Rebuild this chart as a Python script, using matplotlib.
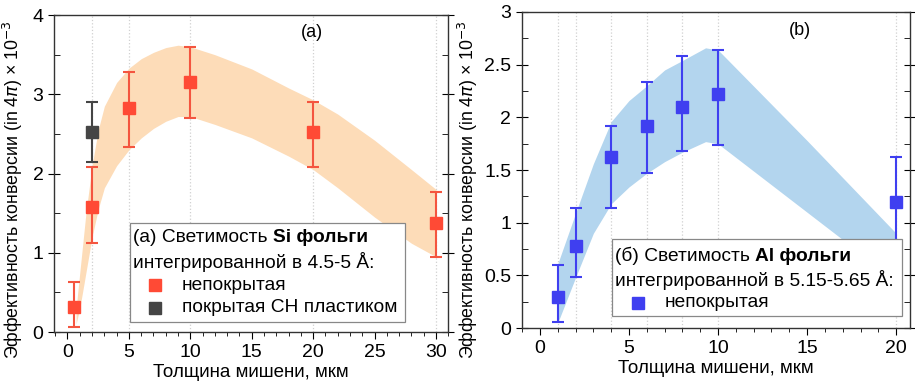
import matplotlib
matplotlib.use("Agg")
import matplotlib.pyplot as plt
from matplotlib.patches import Rectangle
from matplotlib.ticker import MultipleLocator

plt.rcParams['font.family'] = ['Liberation Sans', 'DejaVu Sans']
plt.rcParams['mathtext.fontset'] = 'dejavusans'

# (a) Si foil
si_x = [0.5, 2, 5, 10, 20, 30]
si_y = [0.31, 1.58, 2.83, 3.15, 2.52, 1.38]
si_lo = [0.25, 0.45, 0.50, 0.45, 0.44, 0.43]
si_hi = [0.32, 0.50, 0.45, 0.45, 0.38, 0.39]
si_ch_x = [2]
si_ch_y = [2.52]
si_ch_lo = [0.38]
si_ch_hi = [0.38]
si_band_x = [0.7, 1, 1.5, 2, 2.5, 3, 4, 5, 6, 7, 8, 9, 10, 12, 15, 18, 20, 22, 25, 28, 30]
si_band_up = [0.3, 0.75, 1.5, 2.1, 2.55, 2.85, 3.15, 3.33, 3.45, 3.53, 3.59, 3.62, 3.6,
              3.5, 3.32, 3.08, 2.93, 2.75, 2.42, 2.05, 1.8]
si_band_dn = [0.1, 0.3, 0.75, 1.2, 1.55, 1.82, 2.1, 2.3, 2.45, 2.57, 2.66, 2.72, 2.72,
              2.62, 2.45, 2.22, 2.05, 1.82, 1.45, 1.12, 0.95]

# (b) Al foil
al_x = [1, 2, 4, 6, 8, 10, 20]
al_y = [0.30, 0.78, 1.62, 1.92, 2.10, 2.22, 1.20]
al_lo = [0.24, 0.29, 0.48, 0.45, 0.42, 0.48, 0.42]
al_hi = [0.30, 0.36, 0.30, 0.42, 0.48, 0.42, 0.42]
al_band_x = [1, 2, 3, 4, 5, 6, 7, 8, 9.3, 10, 15, 20]
al_band_up = [0.61, 1.09, 1.56, 1.96, 2.16, 2.3, 2.45, 2.54, 2.66, 2.64, 1.78, 0.9]
al_band_dn = [0.05, 0.48, 0.9, 1.18, 1.34, 1.47, 1.58, 1.67, 1.77, 1.75, 1.1, 0.45]

ylabel = 'Эффективность конверсии (in 4$\\pi$) × 10$^{-3}$'
xlabel = 'Толщина мишени, мкм'

red = '#ff4a35'
red_err = '#f4553f'
gray = '#454545'
blue = '#3f3ff0'

fig = plt.figure(figsize=(9.15, 3.87), dpi=100)
ax1 = fig.add_axes([0.059, 0.142, 0.431, 0.819])
ax2 = fig.add_axes([0.570, 0.152, 0.425, 0.817])


def style(ax):
    for s in ax.spines.values():
        s.set_color('#333333')
        s.set_linewidth(1.0)
    ax.tick_params(axis='x', which='major', direction='out', length=5, labelsize=14, top=False)
    ax.tick_params(axis='x', which='minor', direction='out', length=3, top=False)
    ax.tick_params(axis='y', which='major', direction='inout', length=8, labelsize=14,
                   right=True)
    ax.tick_params(axis='y', which='minor', direction='in', length=4, right=True)
    ax.xaxis.set_minor_locator(MultipleLocator(1))
    ax.set_xlabel(xlabel, fontsize=13.5, labelpad=2)


def legend_box(ax, x0, y0, w, h, lines, entries, tx, mx, lx):
    fs = 13.8
    ax.add_patch(Rectangle((x0, y0), w, h, transform=ax.transAxes, facecolor='white',
                           edgecolor='#888888', linewidth=0.9, zorder=10))
    (pre, bold, ly1), (line2, ly2) = lines
    t = ax.text(tx, ly1, pre, transform=ax.transAxes, fontsize=fs, va='center', zorder=11)
    ax.annotate(bold, xy=(1, 0), xycoords=t, va='bottom', ha='left', fontsize=fs,
                fontweight='bold', zorder=11)
    ax.text(tx, ly2, line2, transform=ax.transAxes, fontsize=fs, va='center', zorder=11)
    for label, color, ly in entries:
        ax.plot([mx], [ly], 's', color=color, markersize=8, transform=ax.transAxes,
                zorder=11, clip_on=False)
        ax.text(lx, ly, label, transform=ax.transAxes, fontsize=fs, va='center', zorder=11)


# panel (a)
for xv in si_x[1:]:
    ax1.axvline(xv, color='#d0d0d0', linestyle=':', linewidth=0.9, zorder=0)
ax1.fill_between(si_band_x, si_band_dn, si_band_up, color='#fddcb8', linewidth=0, zorder=1)
ax1.errorbar(si_ch_x, si_ch_y, yerr=[si_ch_lo, si_ch_hi], fmt='s', color=gray,
             markersize=9, capsize=4, elinewidth=1.5, capthick=1.5, zorder=3)
ax1.errorbar(si_x, si_y, yerr=[si_lo, si_hi], fmt='s', color=red, ecolor=red_err,
             markersize=9, capsize=4, elinewidth=1.5, capthick=1.5, zorder=4)
ax1.set_xlim(-1.1, 31)
ax1.set_ylim(0, 4)
ax1.set_xticks([0, 5, 10, 15, 20, 25, 30])
ax1.set_yticks([0, 1, 2, 3, 4])
ax1.yaxis.set_minor_locator(MultipleLocator(0.5))
style(ax1)
ax1.set_ylabel(ylabel, fontsize=12.8)
ax1.yaxis.set_label_coords(-0.074, 0.448)
ax1.text(0.654, 0.945, '(a)', transform=ax1.transAxes, fontsize=13, ha='center', va='center')
legend_box(ax1, 0.193, 0.032, 0.698, 0.312,
           [('(a) Светимость ', 'Si фольги', 0.297), ('интегрированной в 4.5-5 Å:', 0.221)],
           [('непокрытая', red, 0.148), ('покрытая CH пластиком', gray, 0.076)],
           0.200, 0.255, 0.324)

# panel (b)
for xv in al_x:
    ax2.axvline(xv, color='#d0d0d0', linestyle=':', linewidth=0.9, zorder=0)
ax2.fill_between(al_band_x, al_band_dn, al_band_up, color='#b3d5ee', linewidth=0, zorder=1)
ax2.errorbar(al_x, al_y, yerr=[al_lo, al_hi], fmt='s', color=blue, markersize=9,
             capsize=4, elinewidth=1.5, capthick=1.5, zorder=4)
ax2.set_xlim(-1.03, 20.8)
ax2.set_ylim(0, 3)
ax2.set_xticks([0, 5, 10, 15, 20])
ax2.set_yticks([0, 0.5, 1, 1.5, 2, 2.5, 3])
ax2.set_yticklabels(['0', '0.5', '1', '1.5', '2', '2.5', '3'])
ax2.yaxis.set_minor_locator(MultipleLocator(0.25))
style(ax2)
ax2.set_ylabel(ylabel, fontsize=12.8)
ax2.yaxis.set_label_coords(-0.107, 0.437)
ax2.text(0.717, 0.943, '(b)', transform=ax2.transAxes, fontsize=13, ha='center', va='center')
legend_box(ax2, 0.233, 0.038, 0.746, 0.244,
           [('(б) Светимость ', 'Al фольги', 0.228), ('интегрированной в 5.15-5.65 Å:', 0.152)],
           [('непокрытая', blue, 0.080)],
           0.240, 0.299, 0.367)

fig.savefig('out.png', dpi=100)
